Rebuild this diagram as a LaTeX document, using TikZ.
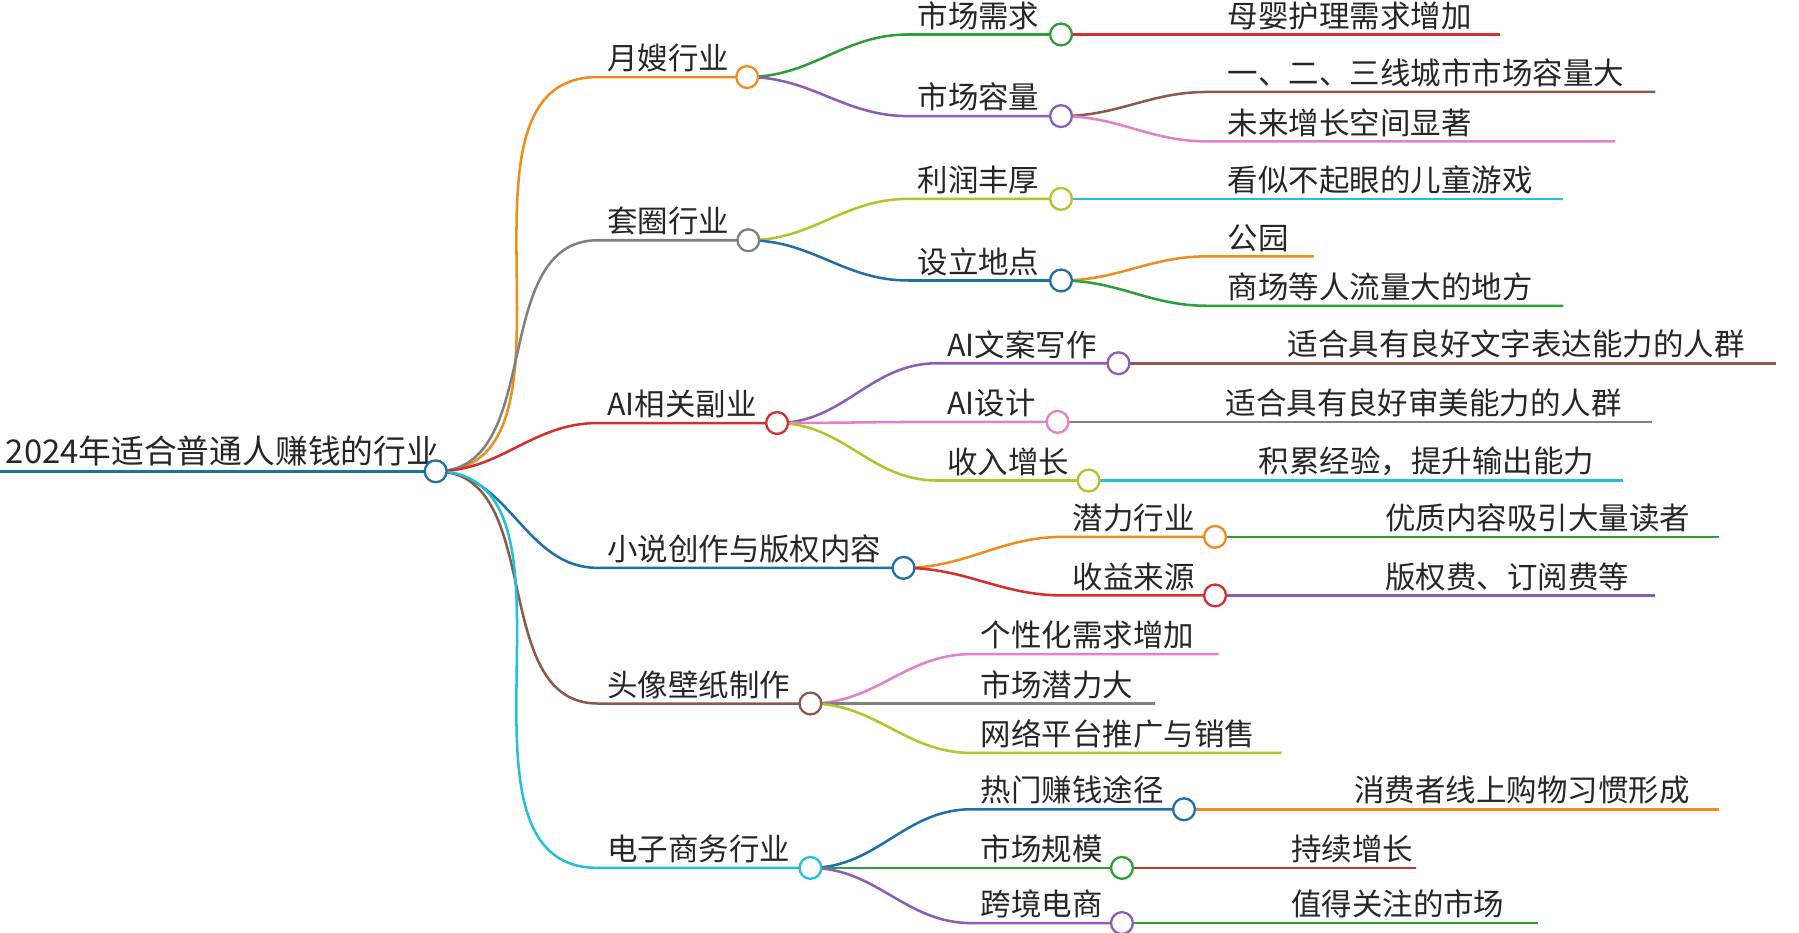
\documentclass[tikz,border=0pt]{standalone}
\usepackage{fontspec}
\setmainfont{Noto Sans CJK SC}
\definecolor{cOrange}{HTML}{F08C1E}
\definecolor{cGray}{HTML}{808080}
\definecolor{cRed}{HTML}{D32F2F}
\definecolor{cBlue}{HTML}{1F6FA8}
\definecolor{cBrown}{HTML}{8B5A4A}
\definecolor{cCyan}{HTML}{22C1D6}
\definecolor{cGreen}{HTML}{2E9E3A}
\definecolor{cPurple}{HTML}{8E5BB5}
\definecolor{cPink}{HTML}{E67FC6}
\definecolor{cOlive}{HTML}{B5C22A}
\tikzset{
  lk/.style={line width=2.2pt,#1},
  dot/.style={circle,draw=#1,fill=white,line width=2pt,minimum size=19pt,inner sep=0pt},
  big/.style={anchor=south west,font=\fontsize{26.5}{30}\selectfont,inner sep=2pt,text=black!85}
}
\begin{document}
\begin{tikzpicture}[x=1pt,y=-1pt]
\useasboundingbox[fill=white] (0,0) rectangle (1565,811);
% root
\coordinate (r0) at (0,410);
\coordinate (root) at (379,410);
\node[big,font=\fontsize{28.5}{32}\selectfont] (rootT) at (3,408) {2024年适合普通人赚钱的行业};
\draw[lk=cBlue] (r0) -- (root);
% level 1
\coordinate (yue) at (650,67);   \coordinate (yue0) at (520,67);
\coordinate (tao) at (651,209);  \coordinate (tao0) at (520,209);
\coordinate (ai) at (676,368);   \coordinate (ai0) at (520,368);
\coordinate (xs) at (786,494);   \coordinate (xs0) at (520,494);
\coordinate (tx) at (705,612);   \coordinate (tx0) at (520,612);
\coordinate (ds) at (705,755);   \coordinate (ds0) at (520,755);
\draw[lk=cOrange] (root) to[out=0,in=180] (yue0) -- (yue);
\draw[lk=cGray] (root) to[out=0,in=180] (tao0) -- (tao);
\draw[lk=cRed] (root) to[out=0,in=180] (ai0) -- (ai);
\draw[lk=cBlue] (root) to[out=0,in=180] (xs0) -- (xs);
\draw[lk=cBrown] (root) to[out=0,in=180] (tx0) -- (tx);
\draw[lk=cCyan] (root) to[out=0,in=180] (ds0) -- (ds);
\node[big] (yueT) at (526,65) {月嫂行业};
\node[big] (taoT) at (526,207) {套圈行业};
\node[big] (aiT) at (526,366) {AI相关副业};
\node[big] (xsT) at (526,492) {小说创作与版权内容};
\node[big] (txT) at (526,610) {头像壁纸制作};
\node[big] (dsT) at (526,753) {电子商务行业};
% level 2
\coordinate (xq) at (923,30);   \coordinate (xq0) at (790,30);
\coordinate (rl) at (923,101);  \coordinate (rl0) at (790,101);
\coordinate (lr) at (923,173);  \coordinate (lr0) at (790,173);
\coordinate (dd) at (923,244);  \coordinate (dd0) at (790,244);
\coordinate (wa) at (973,316);  \coordinate (wa0) at (815,316);
\coordinate (sj) at (920,367);  \coordinate (sj0) at (815,367);
\coordinate (sr) at (947,418);  \coordinate (sr0) at (815,418);
\coordinate (ql) at (1057,467); \coordinate (ql0) at (925,467);
\coordinate (sy) at (1057,518); \coordinate (sy0) at (925,518);
\coordinate (rm) at (1030,704); \coordinate (rm0) at (845,704);
\coordinate (gm) at (976,755);  \coordinate (gm0) at (845,755);
\coordinate (kj) at (976,803);  \coordinate (kj0) at (845,803);
\draw[lk=cGreen] (yue) to[out=0,in=180] (xq0) -- (xq);
\draw[lk=cPurple] (yue) to[out=0,in=180] (rl0) -- (rl);
\draw[lk=cOlive] (tao) to[out=0,in=180] (lr0) -- (lr);
\draw[lk=cBlue] (tao) to[out=0,in=180] (dd0) -- (dd);
\draw[lk=cPurple] (ai) to[out=0,in=180] (wa0) -- (wa);
\draw[lk=cPink] (ai) to[out=0,in=180] (sj0) -- (sj);
\draw[lk=cOlive] (ai) to[out=0,in=180] (sr0) -- (sr);
\draw[lk=cOrange] (xs) to[out=0,in=180] (ql0) -- (ql);
\draw[lk=cRed] (xs) to[out=0,in=180] (sy0) -- (sy);
\draw[lk=cBlue] (ds) to[out=0,in=180] (rm0) -- (rm);
\draw[lk=cGreen] (ds) to[out=0,in=180] (gm0) -- (gm);
\draw[lk=cPurple] (ds) to[out=0,in=180] (kj0) -- (kj);
\node[big] (xqT) at (796,28) {市场需求};
\node[big] (rlT) at (796,99) {市场容量};
\node[big] (lrT) at (796,171) {利润丰厚};
\node[big] (ddT) at (796,242) {设立地点};
\node[big] (waT) at (822,314) {AI文案写作};
\node[big] (sjT) at (822,365) {AI设计};
\node[big] (srT) at (822,416) {收入增长};
\node[big] (qlT) at (931,465) {潜力行业};
\node[big] (syT) at (931,516) {收益来源};
\node[big] (rmT) at (851,702) {热门赚钱途径};
\node[big] (gmT) at (851,753) {市场规模};
\node[big] (kjT) at (851,801) {跨境电商};
% leaves
\coordinate (l1) at (1305,30);
\coordinate (l2) at (1440,80);  \coordinate (l2a) at (1050,80);
\coordinate (l3) at (1405,123); \coordinate (l3a) at (1050,123);
\coordinate (l4) at (1360,173);
\coordinate (l5) at (1143,223); \coordinate (l5a) at (1050,223);
\coordinate (l6) at (1360,266); \coordinate (l6a) at (1050,266);
\coordinate (l7) at (1545,316);
\coordinate (l8) at (1437,367);
\coordinate (l9) at (1412,418);
\coordinate (l10) at (1495,467);
\coordinate (l11) at (1440,518);
\coordinate (l12) at (1060,569); \coordinate (l12a) at (845,569);
\coordinate (l13) at (1005,612); \coordinate (l13a) at (845,612);
\coordinate (l14) at (1115,655); \coordinate (l14a) at (845,655);
\coordinate (l15) at (1495,704);
\coordinate (l16) at (1232,755);
\coordinate (l17) at (1338,803);
\draw[lk=cRed] (xq) -- (l1);
\draw[lk=cBrown] (rl) to[out=0,in=180] (l2a) -- (l2);
\draw[lk=cPink] (rl) to[out=0,in=180] (l3a) -- (l3);
\draw[lk=cCyan] (lr) -- (l4);
\draw[lk=cOrange] (dd) to[out=0,in=180] (l5a) -- (l5);
\draw[lk=cGreen] (dd) to[out=0,in=180] (l6a) -- (l6);
\draw[lk=cBrown] (wa) -- (l7);
\draw[lk=cGray] (sj) -- (l8);
\draw[lk=cCyan] (sr) -- (l9);
\draw[lk=cGreen] (ql) -- (l10);
\draw[lk=cPurple] (sy) -- (l11);
\draw[lk=cPink] (tx) to[out=0,in=180] (l12a) -- (l12);
\draw[lk=cGray] (tx) to[out=0,in=180] (l13a) -- (l13);
\draw[lk=cOlive] (tx) to[out=0,in=180] (l14a) -- (l14);
\draw[lk=cOrange] (rm) -- (l15);
\draw[lk=cRed] (gm) -- (l16);
\draw[lk=cGreen] (kj) -- (l17);
\node[big] (l1T) at (1066,28) {母婴护理需求增加};
\node[big] (l2T) at (1066,78) {一、二、三线城市市场容量大};
\node[big] (l3T) at (1066,121) {未来增长空间显著};
\node[big] (l4T) at (1066,171) {看似不起眼的儿童游戏};
\node[big] (l5T) at (1066,221) {公园};
\node[big] (l6T) at (1066,264) {商场等人流量大的地方};
\node[big] (l7T) at (1118,314) {适合具有良好文字表达能力的人群};
\node[big] (l8T) at (1064,365) {适合具有良好审美能力的人群};
\node[big] (l9T) at (1093,416) {积累经验，提升输出能力};
\node[big] (l10T) at (1203,465) {优质内容吸引大量读者};
\node[big] (l11T) at (1203,516) {版权费、订阅费等};
\node[big] (l12T) at (851,567) {个性化需求增加};
\node[big] (l13T) at (851,610) {市场潜力大};
\node[big] (l14T) at (851,653) {网络平台推广与销售};
\node[big] (l15T) at (1176,702) {消费者线上购物习惯形成};
\node[big] (l16T) at (1121,753) {持续增长};
\node[big] (l17T) at (1121,801) {值得关注的市场};
% dots
\node[dot=cBlue] (rootD) at (root) {};
\node[dot=cOrange] (yueD) at (yue) {};
\node[dot=cGray] (taoD) at (tao) {};
\node[dot=cRed] (aiD) at (ai) {};
\node[dot=cBlue] (xsD) at (xs) {};
\node[dot=cBrown] (txD) at (tx) {};
\node[dot=cCyan] (dsD) at (ds) {};
\node[dot=cGreen] (xqD) at (xq) {};
\node[dot=cPurple] (rlD) at (rl) {};
\node[dot=cOlive] (lrD) at (lr) {};
\node[dot=cBlue] (ddD) at (dd) {};
\node[dot=cPurple] (waD) at (wa) {};
\node[dot=cPink] (sjD) at (sj) {};
\node[dot=cOlive] (srD) at (sr) {};
\node[dot=cOrange] (qlD) at (ql) {};
\node[dot=cRed] (syD) at (sy) {};
\node[dot=cBlue] (rmD) at (rm) {};
\node[dot=cGreen] (gmD) at (gm) {};
\node[dot=cPurple] (kjD) at (kj) {};
\end{tikzpicture}
\end{document}
